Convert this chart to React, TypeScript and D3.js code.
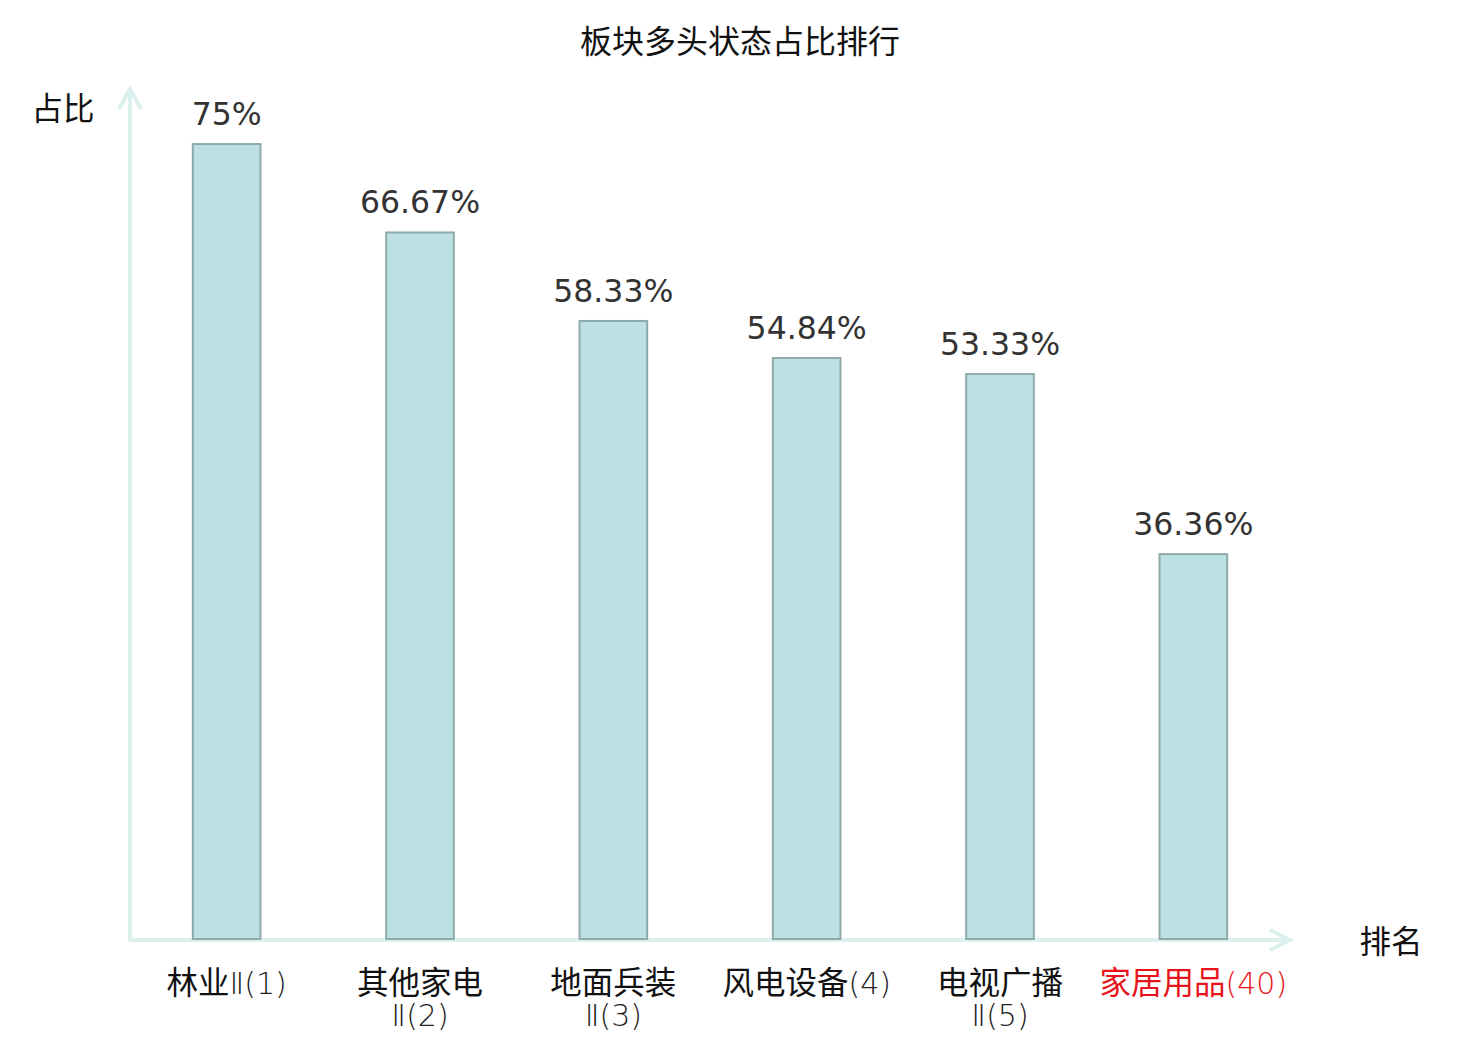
import * as d3 from "d3"

// 板块多头状态占比排行
const categories = ["林业Ⅱ(1)", "其他家电Ⅱ(2)", "地面兵装Ⅱ(3)", "风电设备(4)", "电视广播Ⅱ(5)", "家居用品(40)"]
const labelLines = [["林业Ⅱ(1)"], ["其他家电", "Ⅱ(2)"], ["地面兵装", "Ⅱ(3)"], ["风电设备(4)"], ["电视广播", "Ⅱ(5)"], ["家居用品(40)"]]
const values = [75, 66.67, 58.33, 54.84, 53.33, 36.36]
const highlight = "家居用品(40)"

const W = 1480
const H = 1040
const margin = { top: 91, right: 190, bottom: 100, left: 130 }
const cjk = '"Noto Sans CJK SC", "Noto Sans", sans-serif'

// split CJK part from the rest so the digits can be drawn in a thin latin face
function runs(s: string) {
  const m = s.match(/^([\u4e00-\u9fff]*)(.*)$/)
  return m ? [m[1], m[2]] : [s, ""]
}

export default function App() {
  const x = d3
    .scaleBand<string>()
    .domain(categories)
    .range([margin.left, W - margin.right])
    .paddingInner(0.65)
    .paddingOuter(0.325)

  const y = d3.scaleLinear().domain([0, 80]).range([H - margin.bottom, margin.top])

  const axisColor = "#dcf0ee"
  const x0 = margin.left
  const y0 = y(0)
  const xEnd = W - margin.right
  const yTop = y(80) - 2
  const cx = (c: string) => (x(c) ?? 0) + x.bandwidth() / 2

  return (
    <svg width={W} height={H} style={{ position: "absolute", left: 0, top: 0, background: "#fff" }}>
      <text x={740} y={53} textAnchor="middle" fontFamily={cjk} fontSize={32} fill="#111">
        板块多头状态占比排行
      </text>

      {/* axes */}
      <line x1={x0} y1={y0} x2={x0} y2={yTop} stroke={axisColor} strokeWidth={4} />
      <polyline
        points={`${x0 - 11},${yTop + 20} ${x0},${yTop} ${x0 + 11},${yTop + 20}`}
        fill="none"
        stroke={axisColor}
        strokeWidth={4}
      />
      <line x1={x0 - 2} y1={y0} x2={xEnd} y2={y0} stroke={axisColor} strokeWidth={4} />
      <polyline
        points={`${xEnd - 20},${y0 - 10} ${xEnd},${y0} ${xEnd - 20},${y0 + 10}`}
        fill="none"
        stroke={axisColor}
        strokeWidth={4}
      />
      <text x={63} y={120} textAnchor="middle" fontFamily={cjk} fontSize={31.5} fill="#111">
        占比
      </text>
      <text x={1391} y={953} textAnchor="middle" fontFamily={cjk} fontSize={31.5} fill="#111">
        排名
      </text>

      {/* bars */}
      {categories.map((c, i) => (
        <g key={c}>
          <rect
            x={x(c)}
            y={y(values[i])}
            width={x.bandwidth()}
            height={y0 - y(values[i]) - 1}
            fill="#bce0e3"
            stroke="#8eaaaa"
            strokeWidth={2}
          />
          <text
            x={cx(c)}
            y={y(values[i]) - 19}
            textAnchor="middle"
            fontFamily='"DejaVu Sans", sans-serif'
            fontSize={31.5}
            fill="#333"
          >
            {values[i]}%
          </text>
        </g>
      ))}

      {/* category labels */}
      {categories.map((c, i) => {
        const color = c === highlight ? "#e8141b" : "#111"
        return (
          <g key={c}>
            {labelLines[i].map((line, j) => {
              const [a, b] = runs(line)
              return (
                <text
                  key={j}
                  x={cx(c)}
                  y={994 + j * 32}
                  textAnchor="middle"
                  fontFamily={cjk}
                  fontSize={31.5}
                  fill={color}
                >
                  {a}
                  <tspan
                    fontFamily='"DejaVu Sans", sans-serif'
                    fontWeight={200}
                    fontSize={30}
                    fill={c === highlight ? color : "#222"}
                  >
                    {b}
                  </tspan>
                </text>
              )
            })}
          </g>
        )
      })}
    </svg>
  )
}
